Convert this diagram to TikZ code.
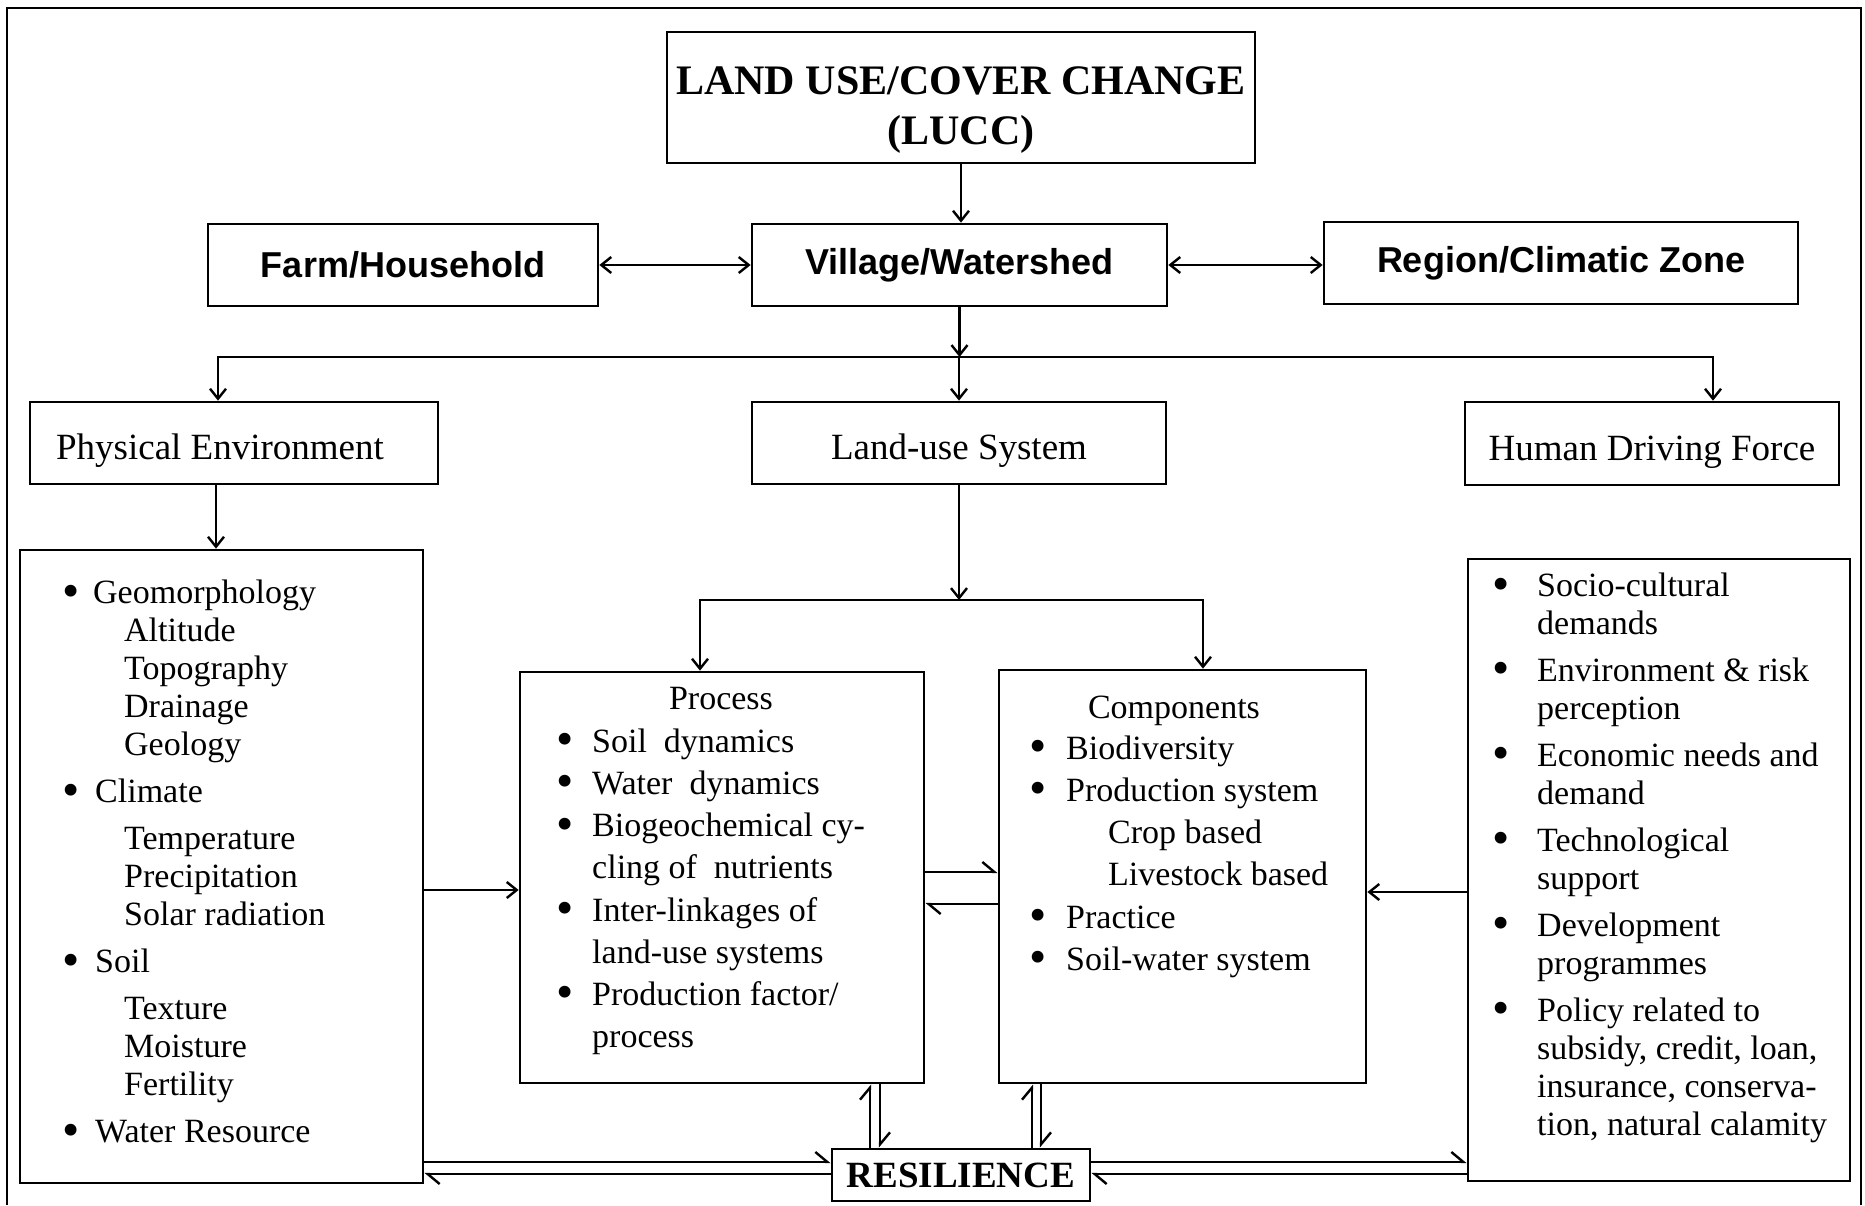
\documentclass[tikz,border=0pt]{standalone}
\usepackage{fontspec}
\usepackage{graphicx}
\setmainfont{Liberation Serif}
\setsansfont{Liberation Sans}
\usetikzlibrary{arrows.meta}
\newcommand\bulw[1]{\makebox[#1][l]{\hspace*{-3pt}\raisebox{-3.5pt}{\scalebox{1.45}{\textbullet}}}}
\begin{document}
\begin{tikzpicture}[x=1pt,y=-1pt,
  box/.style={draw, line width=2.7pt, rectangle, inner sep=0pt, anchor=center},
  conn/.style={line width=2.4pt},
  arr/.style={conn, -{Straight Barb[length=10pt,width=16pt]}},
  darr/.style={conn, {Straight Barb[length=10pt,width=16pt]}-{Straight Barb[length=10pt,width=16pt]}},
  harp/.style={conn, -{Straight Barb[left,length=12pt,width=20pt]}},
  titlefont/.style={font=\fontsize{42}{50}\selectfont\bfseries},
  rowtwo/.style={font=\sffamily\bfseries\fontsize{36}{40}\selectfont},
  rowthree/.style={font=\fontsize{37}{42}\selectfont, text height=41.5pt, text depth=8pt},
  listtext/.style={inner sep=0pt, align=left, anchor=north west},
]
\useasboundingbox (0,0) rectangle (1865,1205);
% outer frame
\draw[line width=2.7pt] (7,1205) -- (7,8) -- (1861,8) -- (1861,1205);

% top box
\node[box, minimum width=588pt, minimum height=131pt] (lucc) at (961,97.5) {};
\node[titlefont, inner sep=0pt, anchor=base] (lucct1) at (961,94) {LAND USE/COVER CHANGE};
\node[titlefont, inner sep=0pt, anchor=base] (lucct2) at (961,144) {(LUCC)};

% second row
\node[box, rowtwo, minimum width=390pt, minimum height=82pt] (farm) at (403,265) {Farm/Household};
\node[box, rowtwo, minimum width=415pt, minimum height=82pt] (village) at (959.5,265) {Village/Watershed};
\node[box, rowtwo, minimum width=474pt, minimum height=82pt] (region) at (1561,263) {Region/Climatic Zone};

% third row
\node[box, rowthree, minimum width=408pt, minimum height=82pt] (phys) at (234,443) {Physical Environment\hspace*{28pt}};
\node[box, rowthree, minimum width=414pt, minimum height=82pt] (landuse) at (959,443) {Land-use System};
\node[box, rowthree, minimum width=374pt, minimum height=83pt] (human) at (1652,443.5) {Human Driving Force};

% content boxes
\node[box, minimum width=403pt, minimum height=633pt] (physbox) at (221.5,866.5) {};
\node[box, minimum width=404pt, minimum height=411pt] (procbox) at (722,877.5) {};
\node[box, minimum width=367pt, minimum height=413pt] (compbox) at (1182.5,876.5) {};
\node[box, minimum width=382pt, minimum height=622pt] (humanbox) at (1659,870) {};
\node[box, font=\fontsize{37}{42}\selectfont\bfseries, minimum width=258pt, minimum height=52pt] (resil) at (961,1175) {RESILIENCE};

% lists
\node[listtext, font=\fontsize{34}{38}\selectfont] (physlist) at (65,577) {%
\strut\bulw{28pt}Geomorphology\\
\hspace*{59pt}Altitude\\
\hspace*{59pt}Topography\\
\hspace*{59pt}Drainage\\
\hspace*{59pt}Geology\\[9pt]
\bulw{30pt}Climate\\[9pt]
\hspace*{59pt}Temperature\\
\hspace*{59pt}Precipitation\\
\hspace*{59pt}Solar radiation\\[9pt]
\bulw{30pt}Soil\\[9pt]
\hspace*{59pt}Texture\\
\hspace*{59pt}Moisture\\
\hspace*{59pt}Fertility\\[9pt]
\bulw{30pt}Water Resource};

\node[font=\fontsize{34}{42.2}\selectfont, inner sep=0pt, anchor=base] (proctitle) at (721,709) {Process};
\node[listtext, font=\fontsize{34}{42.2}\selectfont] (proclist) at (559,722.5) {%
\strut\bulw{33pt}Soil\ \ dynamics\\
\bulw{33pt}Water\ \ dynamics\\
\bulw{33pt}Biogeochemical cy-\\
\hspace*{33pt}cling of\ \ nutrients\\
\bulw{33pt}Inter-linkages of\\
\hspace*{33pt}land-use systems\\
\bulw{33pt}Production factor/\\
\hspace*{33pt}process};

\node[font=\fontsize{34}{42.2}\selectfont, inner sep=0pt, anchor=base] (comptitle) at (1174,718) {Components};
\node[listtext, font=\fontsize{34}{42.2}\selectfont] (complist) at (1032,729.5) {%
\strut\bulw{34pt}Biodiversity\\
\bulw{34pt}Production system\\
\hspace*{76pt}Crop based\\
\hspace*{76pt}Livestock based\\
\bulw{34pt}Practice\\
\bulw{34pt}Soil-water system};

\node[listtext, font=\fontsize{34}{38.2}\selectfont] (humanlist) at (1495,569.6) {%
\strut\bulw{42pt}Socio-cultural\\
\hspace*{42pt}demands\\[8.5pt]
\bulw{42pt}Environment \& risk\\
\hspace*{42pt}perception\\[8.5pt]
\bulw{42pt}Economic needs and\\
\hspace*{42pt}demand\\[8.5pt]
\bulw{42pt}Technological\\
\hspace*{42pt}support\\[8.5pt]
\bulw{42pt}Development\\
\hspace*{42pt}programmes\\[8.5pt]
\bulw{42pt}Policy related to\\
\hspace*{42pt}subsidy, credit, loan,\\
\hspace*{42pt}insurance, conserva-\\
\hspace*{42pt}tion, natural calamity};

% helper coordinates
\coordinate (jl) at (218,357);
\coordinate (jr) at (1713,357);
\coordinate (xpe) at (216,0);
\coordinate (j2) at (957,600);
\coordinate (xl) at (700,600);
\coordinate (xr) at (1203,600);
\coordinate (ya) at (0,890);
\coordinate (yb) at (0,872);
\coordinate (yc) at (0,904);
\coordinate (yd) at (0,892);
\coordinate (xa1) at (870,0);
\coordinate (xa2) at (880,0);
\coordinate (xb1) at (1032,0);
\coordinate (xb2) at (1041,0);
\coordinate (ye1) at (0,1162);
\coordinate (ye2) at (0,1174);

% connectors
\draw[arr] (lucc.south) -- (lucc.south |- village.north);
\draw[darr] (farm.east) -- (farm.east -| village.west);
\draw[darr] (village.east) -- (village.east -| region.west);
\draw[arr] (village.south) -- (village.south |- jl);
\draw[darr] (jl |- phys.north) -- (jl) -- (jr) -- (jr |- human.north);
\draw[arr] (landuse.north |- jl) -- (landuse.north);
\draw[arr] (xpe |- phys.south) -- (xpe |- physbox.north);
\draw[arr] (landuse.south) -- (landuse.south |- j2);
\draw[darr] (xl |- procbox.north) -- (xl |- j2) -- (xr |- j2) -- (xr |- compbox.north);
\draw[arr] (physbox.east |- ya) -- (procbox.west |- ya);
\draw[harp] (procbox.east |- yb) -- (compbox.west |- yb);
\draw[harp] (compbox.west |- yc) -- (procbox.east |- yc);
\draw[arr] (humanbox.west |- yd) -- (compbox.east |- yd);
\draw[harp] (xa1 |- resil.north) -- (xa1 |- procbox.south);
\draw[harp] (xa2 |- procbox.south) -- (xa2 |- resil.north);
\draw[harp] (xb1 |- resil.north) -- (xb1 |- compbox.south);
\draw[harp] (xb2 |- compbox.south) -- (xb2 |- resil.north);
\draw[harp] (physbox.east |- ye1) -- (resil.west |- ye1);
\draw[harp] (resil.west |- ye2) -- (physbox.east |- ye2);
\draw[harp] (resil.east |- ye1) -- (humanbox.west |- ye1);
\draw[harp] (humanbox.west |- ye2) -- (resil.east |- ye2);
\end{tikzpicture}
\end{document}
